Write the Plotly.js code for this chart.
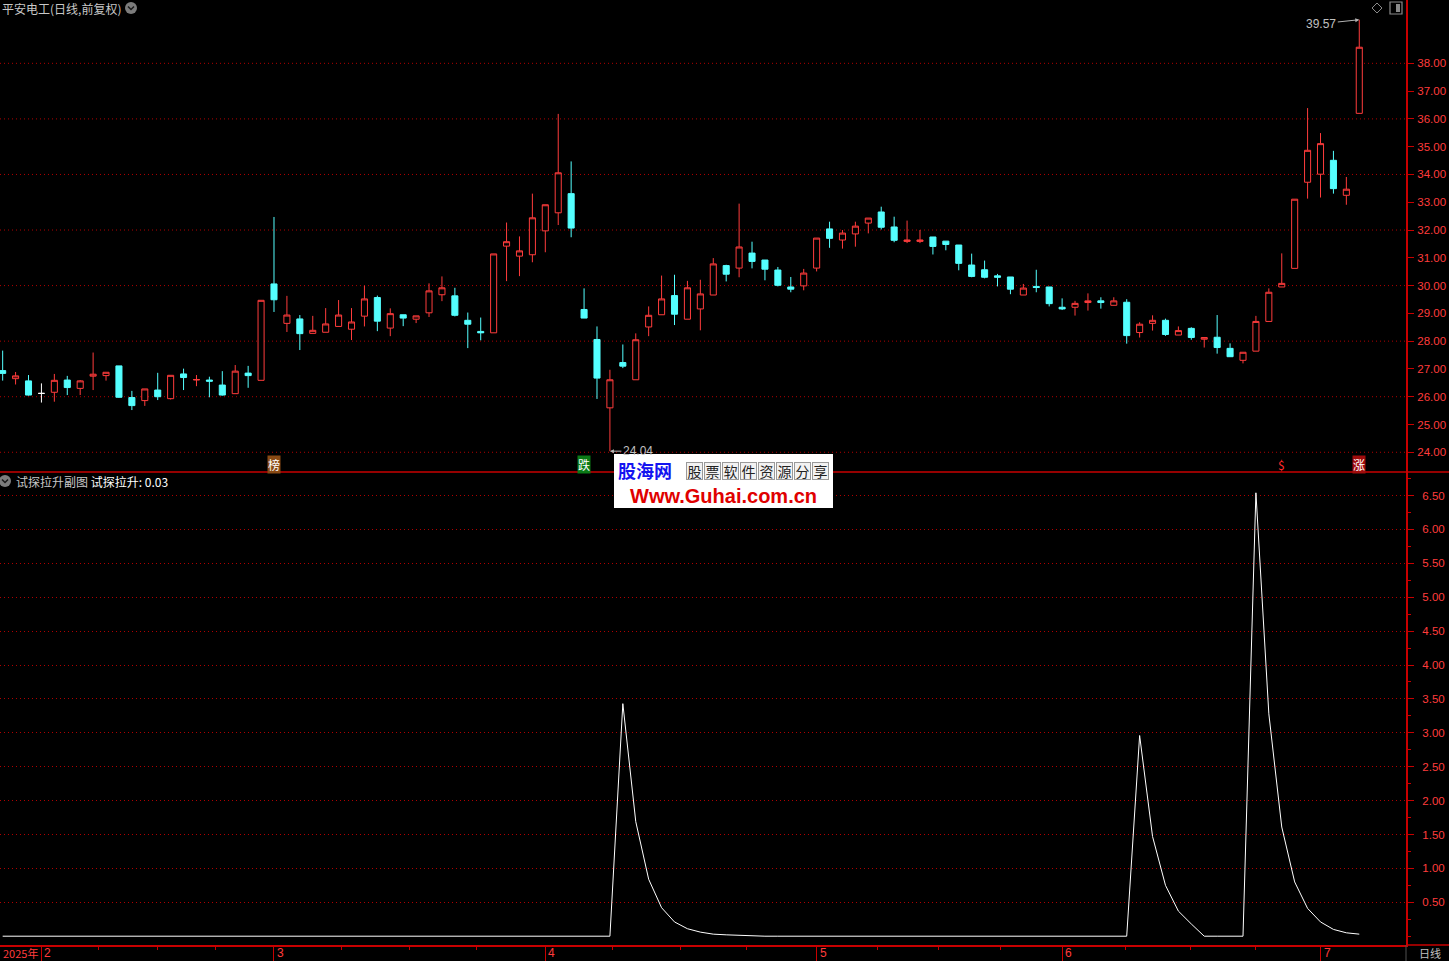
<!DOCTYPE html>
<html><head><meta charset="utf-8">
<script src="https://cdn.plot.ly/plotly-3.0.1.min.js"></script>
<style>html,body{margin:0;padding:0;background:#000;overflow:hidden}#chart{width:1449px;height:961px}</style>
</head><body><div id="chart"></div>
<script>
// ---------------- data ----------------
const stockTitle = '平安电工(日线,前复权)';
const indicatorTitle = '试探拉升副图';
const indicatorName = '试探拉升';

const dayIndex = [
 0,1,2,3,4,5,6,7,8,9, 10,11,12,13,14,15,16,17,18,19, 20,21,22,23,24,25,26,27,28,29,
 30,31,32,33,34,35,36,37,38,39, 40,41,42,43,44,45,46,47,48,49, 50,51,52,53,54,55,56,57,58,59,
 60,61,62,63,64,65,66,67,68,69, 70,71,72,73,74,75,76,77,78,79, 80,81,82,83,84,85,86,87,88,89,
 90,91,92,93,94,95,96,97,98,99, 100,101,102,103,104,105];

const openP = [
 26.94,26.65,26.57,26.12,26.16,26.60,26.30,26.74,26.76,27.11,
 25.97,25.86,26.24,25.93,26.82,26.60,26.60,26.42,26.11,26.85,
 26.59,30.06,28.64,28.80,28.28,28.32,28.53,28.43,28.90,29.57,
 28.47,28.95,28.79,29.02,29.67,29.63,28.75,28.35,28.30,31.42,
 31.06,31.11,31.97,32.62,33.31,29.14,28.06,25.60,27.23,26.61,
 28.51,28.95,29.64,28.79,29.16,29.66,30.72,30.63,31.17,30.92,
 30.56,29.95,29.99,30.63,32.04,31.64,31.86,32.25,32.65,32.11,
 31.59,31.59,31.75,31.60,31.46,30.74,30.57,30.35,30.31,29.66,
 29.97,29.95,29.22,29.22,29.39,29.45,29.29,29.40,28.31,28.64,
 28.75,28.22,28.46,28.07,28.14,27.74,27.31,27.64,28.71,29.95,
 30.62,33.72,34.01,34.51,33.25,36.20];
const highP = [
 27.66,26.89,26.78,26.48,26.82,26.75,26.60,27.59,26.88,27.11,
 26.21,26.28,26.86,26.77,27.01,26.78,26.72,26.92,27.14,27.11,
 29.47,32.47,29.63,28.94,28.91,29.19,29.48,29.19,30.00,29.64,
 29.18,28.95,28.91,30.08,30.33,29.92,29.03,28.85,31.14,32.27,
 31.77,33.31,32.91,36.18,34.47,29.90,28.53,26.97,27.88,28.28,
 29.25,30.36,30.39,30.17,30.21,30.99,30.75,32.95,31.58,30.92,
 30.67,30.31,30.60,31.71,32.30,32.00,32.30,32.43,32.84,32.48,
 32.34,32.00,31.75,31.60,31.46,31.15,30.90,30.42,30.31,30.06,
 30.57,29.95,29.54,29.45,29.72,29.58,29.58,29.51,28.68,28.93,
 28.81,28.53,28.50,28.13,28.94,27.92,27.60,28.91,29.90,31.16,
 33.11,36.39,35.49,34.85,33.91,39.57];
const lowP = [
 26.58,26.44,26.04,25.79,25.82,26.06,26.06,26.24,26.58,25.96,
 25.52,25.67,25.88,25.90,26.24,26.38,25.98,26.04,26.11,26.32,
 26.59,29.05,28.33,27.68,28.28,28.32,28.53,28.04,28.53,28.36,
 28.18,28.54,28.65,28.87,29.44,28.89,27.75,28.03,28.30,30.16,
 30.34,30.84,31.20,32.18,31.74,28.83,25.92,24.04,27.03,26.61,
 28.18,28.95,28.58,28.79,28.39,29.66,30.15,30.30,30.62,30.19,
 29.97,29.76,29.83,30.51,31.36,31.33,31.40,31.88,32.02,31.56,
 31.53,31.53,31.12,31.27,30.55,30.30,30.26,29.97,29.69,29.66,
 29.76,29.25,29.12,28.92,29.10,29.17,29.29,27.91,28.13,28.38,
 28.19,28.22,28.05,27.77,27.55,27.44,27.20,27.64,28.71,29.95,
 30.62,33.13,33.17,33.31,32.91,36.20];
const closeP = [
 26.84,26.75,26.06,26.12,26.59,26.33,26.57,26.81,26.88,25.98,
 25.68,26.28,26.00,26.77,26.69,26.62,26.56,26.06,26.92,26.76,
 29.47,29.49,28.94,28.27,28.39,28.62,28.94,28.69,29.52,28.72,
 28.99,28.83,28.91,29.81,29.92,28.93,28.61,28.30,31.14,31.58,
 31.25,32.44,32.91,34.06,32.07,28.83,26.67,26.61,27.10,28.05,
 28.93,29.52,28.97,29.92,29.70,30.78,30.41,31.39,30.87,30.59,
 30.01,29.87,30.45,31.71,31.70,31.89,32.14,32.43,32.10,31.63,
 31.64,31.64,31.41,31.48,30.80,30.33,30.30,30.30,29.87,29.91,
 29.93,29.35,29.16,29.36,29.45,29.39,29.45,28.20,28.61,28.75,
 28.24,28.38,28.13,28.13,27.77,27.44,27.60,28.71,29.76,30.08,
 33.11,34.87,35.11,33.49,33.47,38.58];

// indicator 试探拉升
const signalValues = [
 0,0,0,0,0,0,0,0,0,0,
 0,0,0,0,0,0,0,0,0,0,
 0,0,0,0,0,0,0,0,0,0,
 0,0,0,0,0,0,0,0,0,0,
 0,0,0,0,0,0,0,0,3.43,1.69,
 0.84,0.42,0.21,0.11,0.06,0.03,0.02,0.01,0,0,
 0,0,0,0,0,0,0,0,0,0,
 0,0,0,0,0,0,0,0,0,0,
 0,0,0,0,0,0,0,0,2.96,1.47,
 0.75,0.37,0.18,0,0,0,0,6.54,3.28,1.61,
 0.80,0.41,0.21,0.10,0.05,0.03];

const monthTickIdx  = [3, 21, 42, 63, 82, 102];
const monthTickText = ['2', '3', '4', '5', '6', '7'];
const yearLabel = '2025年';
const weekTickIdx = [7.4, 12.0, 16.5, 26.2, 31.5, 36.7, 47.2, 52.5, 57.6, 67.7, 72.4, 77.2, 86.9, 91.9, 97.0];
const priceTicks  = [24,25,26,27,28,29,30,31,32,33,34,35,36,37,38];
const signalTicks = [0.5,1,1.5,2,2.5,3,3.5,4,4.5,5,5.5,6,6.5];

const markerIdx   = [21, 45, 99, 105];
const markerText  = ['榜', '跌', '$', '涨'];
const markerBg    = ['#8a4a14', '#0b7a16', 'rgba(0,0,0,0)', '#a00c0c'];
const markerColor = ['#ffffff', '#ffffff', '#ff2a2a', '#ffffff'];

// ---------------- styling ----------------
const W = 1449, H = 961;
const M = {l: 0, r: 43, t: 0, b: 16};
const plotW = W - M.l - M.r, plotH = H - M.t - M.b;
const UP = '#ff3c3c', DOWN = '#54ffff', FLAT = '#ffffff';
const AXIS = '#c80000', GRID = '#b00000', LABEL = '#ff3c3c', TXT = '#c8c8c8';
const split = 1 - 472 / plotH;
const slot = 12.92, firstPx = 2.67;
const xRange = [-firstPx / slot, (plotW - firstPx) / slot];
const priceRange = [23.29, 40.28];
const sigRange = [-0.13, 6.847];
const px = x => x / plotW;
const py = y => 1 - y / plotH;

function pick(cond) {
  const ids = dayIndex.filter(i => cond(openP[i], closeP[i]));
  return {
    x: ids, open: ids.map(i => openP[i]), high: ids.map(i => highP[i]),
    low: ids.map(i => lowP[i]), close: ids.map(i => closeP[i])
  };
}
function candle(sel, col, fill) {
  const st = {line: {color: col, width: 1}, fillcolor: fill};
  return Object.assign({type: 'candlestick', xaxis: 'x', yaxis: 'y', increasing: st, decreasing: st,
    whiskerwidth: 0, hoverinfo: 'skip', showlegend: false}, sel);
}

const traces = [
  candle(pick((o, c) => c > o), UP, '#000000'),
  candle(pick((o, c) => c < o), DOWN, DOWN),
  candle(pick((o, c) => c === o), FLAT, FLAT),
  {type: 'scatter', mode: 'lines', x: dayIndex, y: signalValues, xaxis: 'x', yaxis: 'y2',
   line: {color: '#ffffff', width: 1}, hoverinfo: 'skip', showlegend: false}
];

// ---------------- decorations ----------------
const shapes = [];
priceTicks.filter(v => v % 2 === 0).forEach(v => shapes.push({type: 'line', xref: 'paper', yref: 'y',
  x0: 0, x1: 1, y0: v, y1: v, layer: 'below', line: {color: GRID, width: 1, dash: '1px,3px'}}));
shapes.push({type: 'line', xref: 'paper', yref: 'paper', x0: 0, x1: px(W), y0: split, y1: split, line: {color: AXIS, width: 1.5}});
shapes.push({type: 'line', xref: 'paper', yref: 'paper', x0: 1, x1: px(W), y0: 0, y1: 0, line: {color: AXIS, width: 1.5}});
shapes.push({type: 'line', xref: 'paper', yref: 'paper', x0: 1, x1: 1, y0: 0, y1: py(H), line: {color: '#505050', width: 1}});
[[131, 8], [5, 481]].forEach(([cx, cy]) => {
  shapes.push({type: 'circle', xref: 'paper', yref: 'paper', x0: px(cx - 6), x1: px(cx + 6), y0: py(cy + 6), y1: py(cy - 6),
    fillcolor: '#7c7c7c', line: {width: 0}});
  shapes.push({type: 'path', xref: 'paper', yref: 'paper',
    path: `M ${px(cx - 3)} ${py(cy - 1.5)} L ${px(cx)} ${py(cy + 1.5)} L ${px(cx + 3)} ${py(cy - 1.5)}`,
    line: {color: '#1a1a1a', width: 1.5}});
});
shapes.push({type: 'path', xref: 'paper', yref: 'paper',
  path: `M ${px(1372)} ${py(8)} L ${px(1377)} ${py(3)} L ${px(1382)} ${py(8)} L ${px(1377)} ${py(13)} Z`,
  line: {color: '#8a8a8a', width: 1}});
shapes.push({type: 'rect', xref: 'paper', yref: 'paper', x0: px(1390), x1: px(1402), y0: py(14), y1: py(2),
  line: {color: '#8a8a8a', width: 1.2}});
shapes.push({type: 'rect', xref: 'paper', yref: 'paper', x0: px(1396), x1: px(1400), y0: py(12), y1: py(4),
  fillcolor: '#8a8a8a', line: {width: 0}});
shapes.push({type: 'rect', xref: 'paper', yref: 'paper', x0: px(614), x1: px(833), y0: py(508), y1: py(454),
  fillcolor: '#ffffff', line: {width: 0}, layer: 'above'});

const annotations = [];
annotations.push({xref: 'paper', yref: 'paper', x: px(0), y: py(8), xanchor: 'left', yanchor: 'middle',
  text: stockTitle, showarrow: false, font: {size: 12, color: TXT}});
const lastSig = signalValues[signalValues.length - 1].toFixed(2);
annotations.push({xref: 'paper', yref: 'paper', x: px(14), y: py(481), xanchor: 'left', yanchor: 'middle',
  text: `${indicatorTitle} <span style="color:#ffffff">${indicatorName}: ${lastSig}</span>`, showarrow: false,
  font: {size: 12, color: TXT}});

const hiVal = Math.max(...highP), hiIdx = highP.indexOf(hiVal);
const loVal = Math.min(...lowP), loIdx = lowP.indexOf(loVal);
annotations.push({x: hiIdx, y: hiVal, xref: 'x', yref: 'y', text: hiVal.toFixed(2), showarrow: true,
  ax: -38, ay: 4, arrowhead: 2, arrowsize: 0.8, arrowwidth: 1, arrowcolor: '#b4b4b4', font: {size: 12, color: '#c0c0c0', family: 'Liberation Sans'}});
annotations.push({x: loIdx, y: loVal, xref: 'x', yref: 'y', text: loVal.toFixed(2), showarrow: true,
  ax: 28, ay: 0, arrowhead: 2, arrowsize: 0.8, arrowwidth: 1, arrowcolor: '#b4b4b4', font: {size: 12, color: '#c0c0c0', family: 'Liberation Sans'}});

markerIdx.forEach((m, k) => annotations.push({x: m, y: py(464), xref: 'x', yref: 'paper', text: markerText[k],
  showarrow: false, bgcolor: markerBg[k], borderpad: 0, font: {size: 12, color: markerColor[k]}, yanchor: 'middle'}));

annotations.push({x: monthTickIdx[0], y: py(953), xref: 'x', yref: 'paper', xanchor: 'right', yanchor: 'middle', xshift: -1,
  text: yearLabel, showarrow: false, font: {size: 11, color: LABEL}});
monthTickIdx.forEach((m, k) => annotations.push({x: m, y: py(953), xref: 'x', yref: 'paper', xanchor: 'left', yanchor: 'middle',
  xshift: 1, text: monthTickText[k], showarrow: false, font: {size: 12, color: LABEL, family: 'Liberation Sans'}}));
annotations.push({xref: 'paper', yref: 'paper', x: px(1430), y: py(953), xanchor: 'center', yanchor: 'middle',
  text: '日线', showarrow: false, font: {size: 11, color: '#c0c0c0'}});

annotations.push({xref: 'paper', yref: 'paper', x: px(616), y: py(470), xanchor: 'left', yanchor: 'middle',
  text: '<b>股海网</b>', showarrow: false, font: {size: 18, color: '#1414f0'}});
const wmChars = '股票软件资源分享'.split('');
wmChars.forEach((ch, k) => annotations.push({xref: 'paper', yref: 'paper', x: px(685 + 18.1 * k + 9), y: py(471),
  xanchor: 'center', yanchor: 'middle', text: ch, showarrow: false, width: 15, height: 16, bgcolor: '#f2f2f2',
  bordercolor: '#9a9a9a', borderwidth: 1, borderpad: 0, font: {size: 14, color: '#222222'}}));
annotations.push({xref: 'paper', yref: 'paper', x: px(723.5), y: py(496), xanchor: 'center', yanchor: 'middle',
  text: '<b>Www.Guhai.com.cn</b>', showarrow: false, font: {size: 20, color: '#e00000', family: 'Liberation Sans'}});

const layout = {
  width: W, height: H, margin: M, paper_bgcolor: '#000000', plot_bgcolor: '#000000',
  showlegend: false, boxgap: 0.33, dragmode: false, hovermode: false,
  font: {family: 'Noto Sans CJK SC, DejaVu Sans, sans-serif', size: 12, color: TXT},
  xaxis: {domain: [0, 1], anchor: 'y2', range: xRange, showgrid: false, zeroline: false,
    showline: true, linecolor: AXIS, linewidth: 1.5,
    tickmode: 'array', tickvals: monthTickIdx, ticks: 'outside', ticklen: 16, tickwidth: 1, tickcolor: AXIS,
    showticklabels: false, rangeslider: {visible: false}, fixedrange: true,
    minor: {tickmode: 'array', tickvals: weekTickIdx, ticks: 'outside', ticklen: 3, tickwidth: 1, tickcolor: AXIS, showgrid: false}},
  yaxis: {domain: [split, 1], anchor: 'x', side: 'right', range: priceRange, showgrid: false, zeroline: false,
    showline: true, linecolor: AXIS, linewidth: 2,
    tickmode: 'array', tickvals: priceTicks, ticktext: priceTicks.map(v => v.toFixed(2)),
    ticks: 'outside', ticklen: 6, tickwidth: 1, tickcolor: AXIS, ticklabelstandoff: 1,
    tickfont: {size: 11.5, color: LABEL, family: 'Liberation Sans'}, fixedrange: true},
  yaxis2: {domain: [0, split], anchor: 'x', side: 'right', range: sigRange, zeroline: false,
    showline: true, linecolor: AXIS, linewidth: 2,
    tickmode: 'array', tickvals: signalTicks, ticktext: signalTicks.map(v => v.toFixed(2)),
    ticks: 'outside', ticklen: 6, tickwidth: 1, tickcolor: AXIS, ticklabelstandoff: 6,
    tickfont: {size: 11.5, color: LABEL, family: 'Liberation Sans'},
    showgrid: true, gridcolor: GRID, gridwidth: 1, griddash: '1px,3px', fixedrange: true,
    minor: {dtick: 0.25, tick0: 0, ticks: 'outside', ticklen: 3, tickwidth: 1, tickcolor: AXIS, showgrid: false}},
  shapes: shapes, annotations: annotations
};

Plotly.newPlot('chart', traces, layout, {staticPlot: true, displayModeBar: false});
</script>
</body></html>
